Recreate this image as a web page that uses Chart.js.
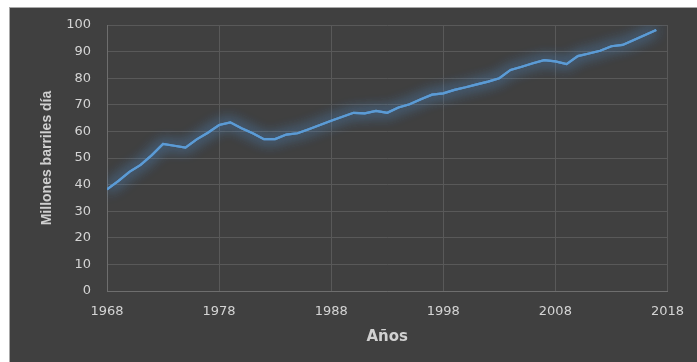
<!DOCTYPE html>
<html>
<head>
<meta charset="utf-8">
<script src="https://cdn.jsdelivr.net/npm/chart.js@4.4.1/dist/chart.umd.min.js"></script>
<style>
  html, body { margin: 0; padding: 0; background: #ffffff; }
  #bg { position: absolute; left: 9px; top: 7px; width: 688px; height: 355px; background: #404040; border-top: 1px solid #a8a8a8; border-left: 1px solid #a8a8a8; box-sizing: border-box; }
  #wrap { position: absolute; left: 0; top: 0; width: 697px; height: 362px; }
</style>
</head>
<body>
<div id="bg"></div>
<div id="wrap"><canvas id="c" width="697" height="362"></canvas></div>
<script>
const years = [1968,1969,1970,1971,1972,1973,1974,1975,1976,1977,1978,1979,1980,1981,1982,1983,1984,1985,1986,1987,1988,1989,1990,1991,1992,1993,1994,1995,1996,1997,1998,1999,2000,2001,2002,2003,2004,2005,2006,2007,2008,2009,2010,2011,2012,2013,2014,2015,2016,2017];
const demand = [38.2,41.3,44.8,47.4,51.1,55.3,54.6,53.9,57.0,59.5,62.4,63.4,61.2,59.3,57.1,57.1,58.8,59.3,60.8,62.4,64.0,65.5,67.0,66.8,67.7,67.0,69.0,70.2,72.1,73.8,74.3,75.6,76.6,77.7,78.7,80.0,83.1,84.3,85.6,86.8,86.3,85.3,88.3,89.3,90.3,92.0,92.5,94.4,96.2,98.1];
const xTicks = [1968,1978,1988,1998,2008,2018];
const yTicks = [0,10,20,30,40,50,60,70,80,90,100];
const xTitle = 'Años';
const yTitle = 'Millones barriles día';

const points = years.map((y, i) => ({ x: y, y: demand[i] }));

const glow = {
  id: 'glow',
  beforeDatasetsDraw(chart) {
    const ctx = chart.ctx;
    ctx.save();
    ctx.shadowColor = 'rgba(80,150,220,1)';
    ctx.shadowBlur = 14;
  },
  afterDatasetsDraw(chart) {
    chart.ctx.restore();
  }
};

const tickFont = { family: 'DejaVu Sans', size: 13 };

new Chart(document.getElementById('c'), {
  type: 'line',
  data: {
    datasets: [{
      data: points,
      borderColor: '#5b9bd5',
      borderWidth: 2.2,
      pointRadius: 0,
      tension: 0,
      fill: false
    }, {
      data: points,
      borderColor: '#5b9bd5',
      borderWidth: 2.2,
      pointRadius: 0,
      tension: 0,
      fill: false
    }]
  },
  options: {
    responsive: false,
    animation: false,
    devicePixelRatio: 1,
    layout: { padding: { left: 0, top: 25, right: 25, bottom: 0 } },
    plugins: { legend: { display: false }, tooltip: { enabled: false } },
    scales: {
      x: {
        type: 'linear',
        min: xTicks[0],
        max: xTicks[xTicks.length - 1],
        afterBuildTicks(scale) { scale.ticks = xTicks.map(v => ({ value: v })); },
        afterFit(scale) { scale.height = 71; },
        ticks: { color: '#d4d4d4', font: tickFont, padding: 13, maxRotation: 0, autoSkip: false, callback: v => String(v) },
        grid: { color: '#595959', lineWidth: 1, drawTicks: false },
        border: { color: '#6e6e6e', width: 1 },
        title: { display: true, text: xTitle, color: '#d0d0d0', font: { family: 'DejaVu Sans', size: 15, weight: 'bold' }, padding: { top: 0, bottom: 16 } }
      },
      y: {
        min: 0,
        max: 100,
        afterBuildTicks(scale) { scale.ticks = yTicks.map(v => ({ value: v })); },
        afterFit(scale) { scale.width = 107; },
        ticks: { color: '#d4d4d4', font: tickFont, padding: 16 },
        grid: { color: '#595959', lineWidth: 1, drawTicks: false },
        border: { color: '#6e6e6e', width: 1 },
        title: { display: true, text: yTitle, color: '#d0d0d0', font: { family: 'Liberation Sans', size: 14, weight: 'bold' }, padding: { top: 39, bottom: 0 } }
      }
    }
  },
  plugins: [glow]
});
</script>
</body>
</html>
